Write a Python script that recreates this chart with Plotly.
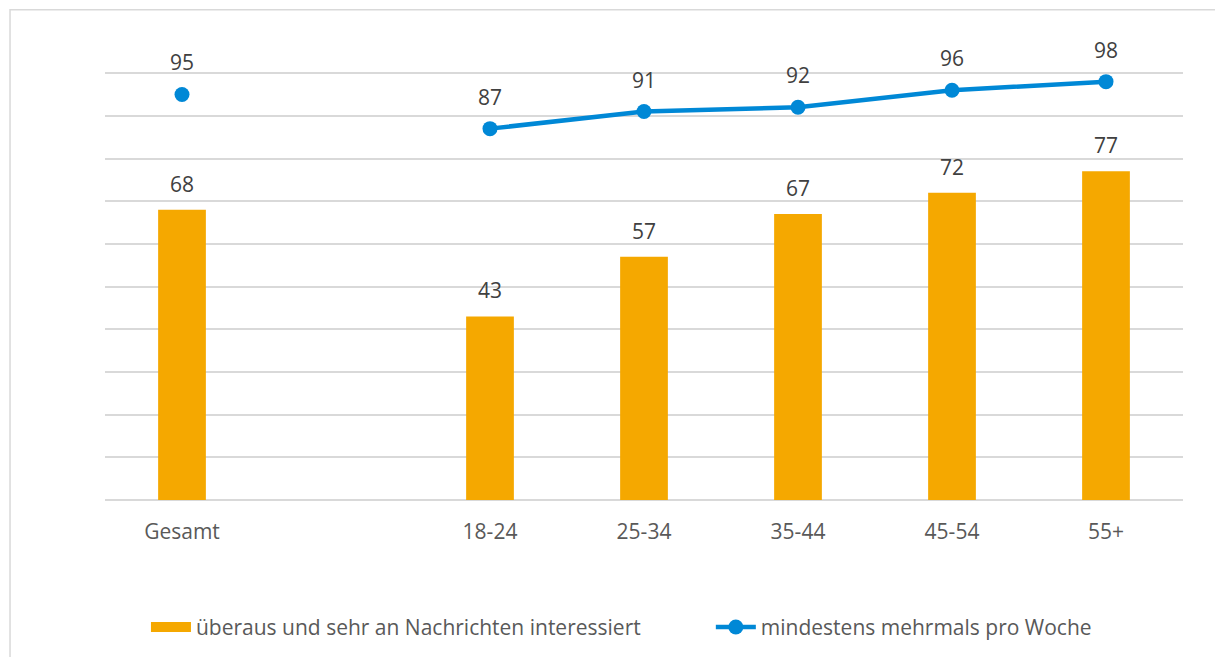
import plotly.graph_objects as go

categories = ["Gesamt", " ", "18-24", "25-34", "35-44", "45-54", "55+"]
interest = [68, None, 43, 57, 67, 72, 77]
weekly = [95, None, 87, 91, 92, 96, 98]
name_bar = "überaus und sehr an Nachrichten interessiert"
name_line = "mindestens mehrmals pro Woche"

ORANGE = "#F5A800"
BLUE = "#0088D6"
FONT = "Open Sans"
FS = 21

fig = go.Figure()
fig.add_trace(go.Bar(x=categories, y=interest, name=name_bar, showlegend=False,
                     marker=dict(color=ORANGE, line=dict(width=0)), width=0.31))
# legend proxy for the bar series (wide rectangular swatch)
fig.add_trace(go.Scatter(x=[None], y=[None], name=name_bar, mode="lines",
                         line=dict(color=ORANGE, width=13), legend="legend"))
fig.add_trace(go.Scatter(x=categories, y=weekly, name=name_line, mode="lines+markers",
                         line=dict(color=BLUE, width=4.5), marker=dict(color=BLUE, size=15),
                         connectgaps=False, legend="legend2"))

annotations = []
for c, v in zip(categories, interest):
    if v is not None:
        annotations.append(dict(x=c, y=v, text=str(v), showarrow=False, yshift=26,
                                yanchor="middle", font=dict(family=FONT, size=FS, color="#404040")))
for c, v in zip(categories, weekly):
    if v is not None:
        annotations.append(dict(x=c, y=v, text=str(v), showarrow=False, yshift=32,
                                yanchor="middle", font=dict(family=FONT, size=FS, color="#404040")))

legend_common = dict(orientation="h", y=-0.297, yanchor="middle", xanchor="left",
                     font=dict(size=FS, color="#595959"), itemwidth=40,
                     bgcolor="rgba(0,0,0,0)")

fig.update_layout(
    width=1215, height=657,
    margin=dict(l=105, r=32, t=71, b=157, autoexpand=False),
    paper_bgcolor="white", plot_bgcolor="white",
    font=dict(family=FONT, size=FS, color="#595959"),
    barmode="overlay",
    xaxis=dict(type="category", showgrid=False, showline=False, zeroline=False,
               ticks="", tickfont=dict(size=FS, color="#595959"), ticklabelstandoff=17,
               fixedrange=True),
    yaxis=dict(range=[0, 100.5], dtick=10, showticklabels=False, showgrid=True,
               gridcolor="#D9D9D9", gridwidth=1.5, zeroline=True, zerolinecolor="#D9D9D9",
               zerolinewidth=1.5, showline=False, ticks=""),
    legend=dict(x=0.038, **legend_common),
    legend2=dict(x=0.562, **legend_common),
    annotations=annotations,
    shapes=[dict(type="rect", xref="paper", yref="paper", x0=-0.0881, x1=1.04,
                 y0=-0.42, y1=1.1429, line=dict(color="#D9D9D9", width=1.5),
                 fillcolor="rgba(0,0,0,0)", layer="below")],
    showlegend=True,
)

fig.write_html("out.html", config={"displayModeBar": False},
               post_script="document.body.style.margin='0';")
